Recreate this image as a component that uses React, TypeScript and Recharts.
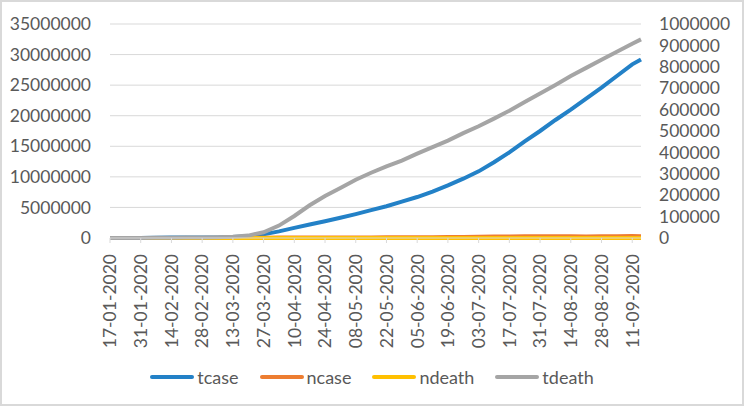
import React from "react";
import { CartesianGrid, Legend, Line, LineChart, XAxis, YAxis } from "recharts";

// days since 17-01-2020, sampled weekly (last point 15-09-2020)
const days = [0, 7, 14, 21, 28, 35, 42, 49, 56, 63, 70, 77, 84, 91, 98, 105, 112, 119, 126, 133, 140, 147, 154, 161, 168, 175, 182, 189, 196, 203, 210, 217, 224, 231, 238, 242];

const tcase = [
  50, 900, 9800, 31500, 64000, 76800, 84000, 100000, 145000, 270000, 590000, 1080000, 1650000, 2200000, 2750000, 3300000, 3900000, 4550000,
  5200000, 5950000, 6700000, 7600000, 8600000, 9700000, 10900000, 12400000, 14000000, 15800000, 17500000, 19300000, 21000000, 22800000,
  24600000, 26500000, 28400000, 29200000,
];
const ncase = [
  4, 250, 2000, 3200, 5000, 900, 1300, 3800, 10000, 30000, 60000, 77000, 90000, 80000, 85000, 85000, 90000, 95000, 105000, 115000, 125000,
  135000, 165000, 180000, 210000, 230000, 250000, 280000, 290000, 280000, 290000, 265000, 280000, 290000, 310000, 280000,
];
const ndeath = [
  0, 8, 43, 86, 140, 110, 50, 100, 400, 1300, 3300, 6000, 7300, 8500, 6400, 5500, 5300, 5100, 4500, 4500, 4700, 4500, 4800, 4600, 5000, 5200,
  5600, 6200, 6000, 6300, 6000, 5800, 5700, 5500, 5600, 5500,
];
const tdeath = [
  2, 26, 213, 640, 1380, 2250, 2860, 3460, 5400, 11300, 27000, 58000, 103000, 153000, 196000, 234000, 272000, 305000, 335000, 362000, 394000,
  425000, 455000, 490000, 522000, 558000, 595000, 635000, 675000, 715000, 757000, 795000, 833000, 870000, 908000, 928000,
];

const tickLabels = [
  "17-01-2020", "31-01-2020", "14-02-2020", "28-02-2020", "13-03-2020", "27-03-2020", "10-04-2020", "24-04-2020", "08-05-2020",
  "22-05-2020", "05-06-2020", "19-06-2020", "03-07-2020", "17-07-2020", "31-07-2020", "14-08-2020", "28-08-2020", "11-09-2020",
];
const leftTicks = [0, 5000000, 10000000, 15000000, 20000000, 25000000, 30000000, 35000000];
const rightTicks = [0, 100000, 200000, 300000, 400000, 500000, 600000, 700000, 800000, 900000, 1000000];

const series = [
  { key: "tcase", color: "#2381c7", axis: "left" },
  { key: "ncase", color: "#ed7d31", axis: "left" },
  { key: "ndeath", color: "#ffc000", axis: "left" },
  { key: "tdeath", color: "#a5a5a5", axis: "right" },
];

const data = days.map((d, i) => ({ day: d, tcase: tcase[i], ncase: ncase[i], ndeath: ndeath[i], tdeath: tdeath[i] }));
const xTicks = tickLabels.map((_, i) => i * 14);

const FONT = "Lato, 'Open Sans', sans-serif";
const TEXT = "#595959";

function DateTick({ x, y, payload }: any) {
  const label = tickLabels[Math.round(payload.value / 14)] ?? "";
  return (
    <g transform={`translate(${x},${y})`}>
      <text transform="rotate(-90)" x={-9} y={0} dy="0.36em" textAnchor="end" fill={TEXT} fontSize={17.5} fontFamily={FONT}>
        {label}
      </text>
    </g>
  );
}

function LegendRow() {
  return (
    <div style={{ height: 58, display: "flex", justifyContent: "center", alignItems: "center", gap: 21, fontFamily: FONT, fontSize: 18, color: TEXT }}>
      {series.map((s) => (
        <div key={s.key} style={{ display: "flex", alignItems: "center" }}>
          <span style={{ display: "inline-block", width: 44, height: 4, borderRadius: 2, background: s.color, marginRight: 3 }} />
          <span>{s.key}</span>
        </div>
      ))}
    </div>
  );
}

export default function App() {
  return (
    <div
      style={{ position: "fixed", left: 0, top: 0, width: 744, height: 406, background: "#fff", border: "2px solid #d9d9d9", boxSizing: "border-box" }}
    >
      <div style={{ position: "absolute", left: -2, top: -2 }}>
        <LineChart width={744} height={406} data={data} margin={{ top: 24, right: 0, left: 0, bottom: 0 }}>
          <CartesianGrid yAxisId="left" vertical={false} stroke="#d9d9d9" strokeWidth={1} />
          <XAxis
            dataKey="day"
            type="number"
            domain={[0, 242]}
            ticks={xTicks}
            interval={0}
            height={110}
            tick={<DateTick />}
            axisLine={{ stroke: "#d9d9d9" }}
            tickLine={{ stroke: "#d9d9d9" }}
            tickSize={5}
          />
          <YAxis
            yAxisId="left"
            domain={[0, 35000000]}
            ticks={leftTicks}
            interval={0}
            width={110}
            axisLine={false}
            tickLine={false}
            tickMargin={13}
            tick={{ fill: TEXT, fontSize: 17.5, fontFamily: FONT }}
          />
          <YAxis
            yAxisId="right"
            orientation="right"
            domain={[0, 1000000]}
            ticks={rightTicks}
            interval={0}
            width={103}
            axisLine={false}
            tickLine={false}
            tickMargin={12}
            tick={{ fill: TEXT, fontSize: 17.5, fontFamily: FONT, textAnchor: "start" }}
          />
          <Legend verticalAlign="bottom" content={<LegendRow />} />
          {series.map((s) => (
            <Line
              key={s.key}
              yAxisId={s.axis}
              type="linear"
              dataKey={s.key}
              stroke={s.color}
              strokeWidth={4}
              dot={false}
              isAnimationActive={false}
            />
          ))}
        </LineChart>
      </div>
    </div>
  );
}
